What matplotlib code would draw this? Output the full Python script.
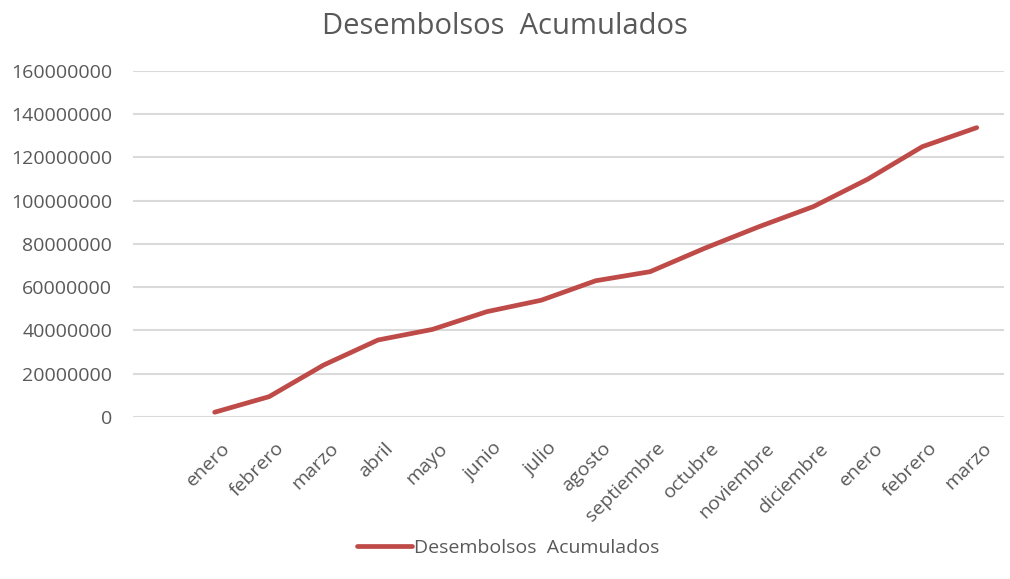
import matplotlib
matplotlib.use("Agg")
import matplotlib.pyplot as plt
from matplotlib.transforms import ScaledTranslation

# Monthly cumulative disbursements
months = ["enero", "febrero", "marzo", "abril", "mayo", "junio", "julio",
          "agosto", "septiembre", "octubre", "noviembre", "diciembre",
          "enero", "febrero", "marzo"]
cumulative = [2200000, 9400000, 24000000, 35600000, 40500000, 48700000,
              54000000, 63000000, 67200000, 78000000, 88000000, 97300000,
              110000000, 125000000, 133800000]
y_ticks = [0, 20000000, 40000000, 60000000, 80000000, 100000000,
           120000000, 140000000, 160000000]

series_name = "Desembolsos  Acumulados"
text_color = "#595959"
line_color = "#be4b48"
grid_color = "#dadada"

plt.rcParams["font.family"] = ["Open Sans", "DejaVu Sans"]

fig = plt.figure(figsize=(10.10, 5.79), dpi=100)
ax = fig.add_axes([0.1317, 0.2798, 0.8623, 0.5976])

x = list(range(1, len(months) + 1))
line, = ax.plot(x, cumulative, color=line_color, linewidth=3.4,
                solid_capstyle="round", solid_joinstyle="round",
                label=series_name, zorder=3)

# one empty slot on the left of the first category
ax.set_xlim(-0.5, len(months) + 0.5)
ax.set_ylim(0, 160000000)
ax.set_yticks(y_ticks)
ax.set_yticklabels([str(v) for v in y_ticks])
ax.set_xticks(x)
ax.set_xticklabels(months, rotation=45, ha="right", va="top",
                   rotation_mode="anchor")

ax.yaxis.grid(True, color=grid_color, linewidth=1.5)
ax.set_axisbelow(True)
for s in ax.spines.values():
    s.set_visible(False)
ax.tick_params(axis="both", length=0, colors=text_color, labelsize=14)
ax.tick_params(axis="y", pad=15)
ax.tick_params(axis="x", pad=16)
shift = ScaledTranslation(6 / 100, 0, fig.dpi_scale_trans)
for lbl in ax.get_xticklabels():
    lbl.set_color(text_color)
    lbl.set_transform(lbl.get_transform() + shift)
for lbl in ax.get_yticklabels():
    lbl.set_color(text_color)

fig.text(0.5, 1 - 27 / 579, series_name, ha="center", va="center",
         fontsize=21, color=text_color)

leg = fig.legend(handles=[line], loc="center", bbox_to_anchor=(0.503, 1 - 548 / 579),
                 frameon=False, fontsize=14, handlelength=2.8, handletextpad=0.1)
for t in leg.get_texts():
    t.set_color(text_color)

fig.savefig("out.png", dpi=100, facecolor="white")
